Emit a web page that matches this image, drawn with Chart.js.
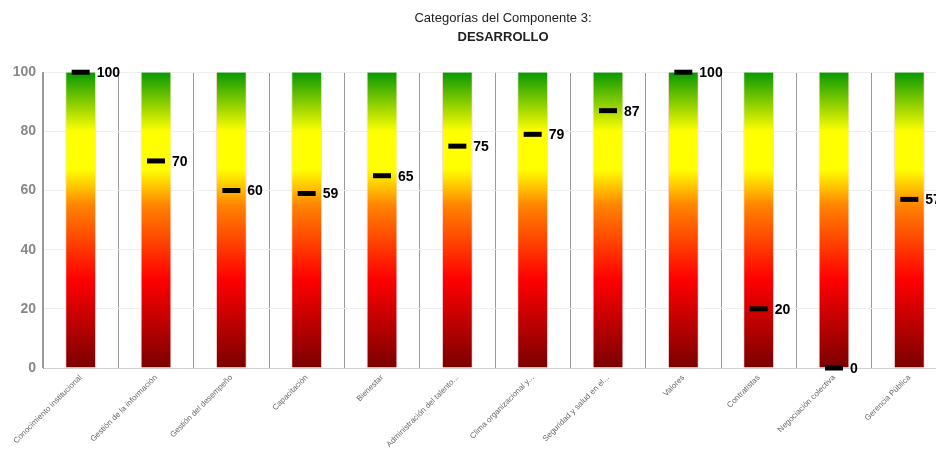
<!DOCTYPE html>
<html lang="es">
<head>
    <meta charset="UTF-8">
    <title>Componente 3: Desarrollo</title>
    <script src="https://cdn.jsdelivr.net/npm/chart.js"></script>
    <style>
        body {
            margin: 0;
            background: #fff;
            overflow: hidden;
        }
        #wrap {
            width: 1006px;
            height: 454px;
        }
    </style>
</head>
<body>
<div id="wrap">
    <canvas id="chart" width="1006" height="454"></canvas>
</div>
<script>
// categorias (texto tal como aparece, recortado con "...")
var categorias = [
    'Conocimiento institucional',
    'Gestión de la información',
    'Gestión del desempeño',
    'Capacitación',
    'Bienestar',
    'Administración del talento...',
    'Clima organizacional y...',
    'Seguridad y salud en el...',
    'Valores',
    'Contratistas',
    'Negociación colectiva',
    'Gerencia Pública'
];
// puntaje de cada categoria
var puntajes = [100, 70, 60, 59, 65, 75, 79, 87, 100, 20, 0, 57];
// barra de fondo (escala completa)
var escala = [100, 100, 100, 100, 100, 100, 100, 100, 100, 100, 100, 100];
var ticksY = [0, 20, 40, 60, 80, 100];

var fuente = 'Arial, "Liberation Sans", sans-serif';

function degradado(context) {
    var chart = context.chart;
    var area = chart.chartArea;
    if (!area) return '#ff0000';
    var g = chart.ctx.createLinearGradient(0, area.bottom, 0, area.top);
    g.addColorStop(0, '#7a0000');
    g.addColorStop(0.3, '#ff0000');
    g.addColorStop(0.55, '#ff8400');
    g.addColorStop(0.67, '#ffff00');
    g.addColorStop(0.8, '#ffff00');
    g.addColorStop(1, '#089800');
    return g;
}

// numeros junto a cada marca
var etiquetas = {
    id: 'etiquetas',
    afterDraw: function (chart) {
        var meta = chart.getDatasetMeta(0);
        var ctx = chart.ctx;
        ctx.save();
        ctx.font = 'bold 14px ' + fuente;
        ctx.fillStyle = '#000';
        ctx.textAlign = 'left';
        ctx.textBaseline = 'middle';
        meta.data.forEach(function (p, i) {
            ctx.fillText(String(puntajes[i]), p.x + 16, p.y + 1);
        });
        ctx.restore();
    }
};

var ctx = document.getElementById('chart').getContext('2d');
var chart = new Chart(ctx, {
    data: {
        labels: categorias,
        datasets: [{
            type: 'line',
            label: 'Puntaje',
            data: puntajes,
            showLine: false,
            pointStyle: 'line',
            pointRadius: 9,
            pointHoverRadius: 9,
            pointBorderWidth: 5,
            borderColor: '#000',
            backgroundColor: '#000',
            clip: false,
            order: 0
        }, {
            type: 'bar',
            label: 'Escala',
            data: escala,
            backgroundColor: degradado,
            borderColor: 'rgba(255, 190, 190, 0.6)',
            borderWidth: { left: 1, right: 1, top: 0, bottom: 0 },
            categoryPercentage: 1,
            barPercentage: 0.41,
            order: 1
        }]
    },
    options: {
        responsive: false,
        animation: false,
        layout: { padding: 0 },
        plugins: {
            legend: { display: false },
            tooltip: { enabled: false },
            title: {
                display: true,
                text: 'Categorías del Componente 3:',
                color: '#222',
                font: { family: fuente, size: 13, weight: 'normal' },
                padding: { top: 11, bottom: 3 }
            },
            subtitle: {
                display: true,
                text: 'DESARROLLO',
                color: '#222',
                font: { family: fuente, size: 13, weight: 'bold' },
                padding: { top: 0, bottom: 27 }
            }
        },
        scales: {
            x: {
                offset: true,
                grid: {
                    offset: true,
                    color: '#9a9a9a',
                    drawTicks: false
                },
                border: { color: '#d0d0d0' },
                ticks: {
                    autoSkip: false,
                    maxRotation: 45,
                    minRotation: 45,
                    padding: 5,
                    color: '#666',
                    font: { family: fuente, size: 8 }
                },
                afterFit: function (s) { s.height = 86; }
            },
            y: {
                min: 0,
                max: 100,
                afterBuildTicks: function (s) {
                    s.ticks = ticksY.map(function (v) { return { value: v }; });
                },
                grid: {
                    color: '#efefef',
                    drawTicks: false
                },
                border: { color: '#9a9a9a' },
                ticks: {
                    padding: 7,
                    color: '#888',
                    font: { family: fuente, size: 14, weight: 'bold' }
                },
                afterFit: function (s) { s.width = 43; }
            },
            // eje vacio a la derecha: solo reserva el margen
            margen: {
                position: 'right',
                min: 0,
                max: 100,
                grid: { display: false, drawTicks: false },
                border: { display: false },
                ticks: { display: false },
                afterFit: function (s) { s.width = 59; }
            }
        }
    },
    plugins: [etiquetas]
});
</script>
</body>
</html>
